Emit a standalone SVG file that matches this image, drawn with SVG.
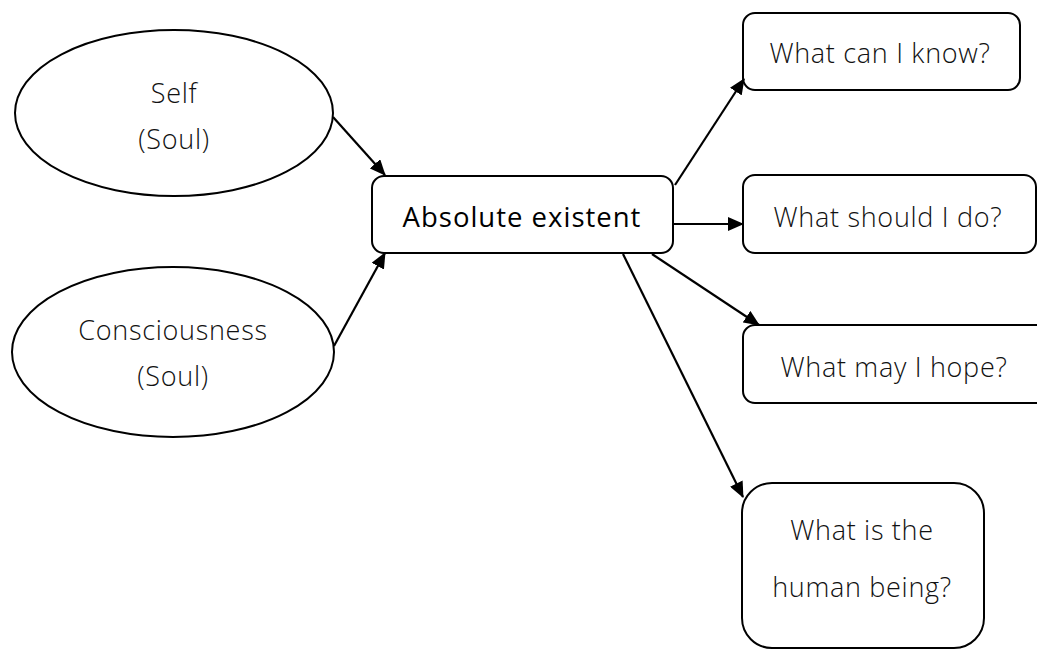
<svg xmlns="http://www.w3.org/2000/svg" width="1037" height="650" viewBox="0 0 1037 650">
  <style>
    .shape { fill: #fff; stroke: #000; stroke-width: 2; }
    .lbl { font-family: "Open Sans", "Noto Sans", sans-serif; font-size: 27px; font-weight: 300; fill: #111; text-anchor: middle; letter-spacing: 0.7px; }
    .bold { font-size: 27.5px; font-weight: 500; fill: #000; letter-spacing: 1px; }
    .edge { stroke: #000; stroke-width: 2.2; fill: none; marker-end: url(#arrow); }
  </style>
  <defs>
    <marker id="arrow" viewBox="0 0 16 14" refX="15" refY="7" markerWidth="16" markerHeight="14" markerUnits="userSpaceOnUse" orient="auto">
      <path d="M0,0 L16,7 L0,14 Z" fill="#000"/>
    </marker>
  </defs>

  <g id="self">
    <ellipse class="shape" cx="174" cy="113" rx="159" ry="83"/>
    <text class="lbl" x="174" y="103">Self</text>
    <text class="lbl" x="174" y="149">(Soul)</text>
  </g>

  <g id="consciousness">
    <ellipse class="shape" cx="173" cy="352" rx="161" ry="85"/>
    <text class="lbl" x="173" y="340">Consciousness</text>
    <text class="lbl" x="173" y="386">(Soul)</text>
  </g>

  <g id="absolute">
    <rect class="shape" x="372" y="176" width="301" height="77" rx="12"/>
    <text class="lbl bold" x="522" y="227">Absolute existent</text>
  </g>

  <g id="know">
    <rect class="shape" x="743" y="13" width="277" height="77" rx="12"/>
    <text class="lbl" x="880" y="63">What can I know?</text>
  </g>

  <g id="do">
    <rect class="shape" x="743" y="175" width="293" height="78" rx="12"/>
    <text class="lbl" x="888" y="227">What should I do?</text>
  </g>

  <g id="hope">
    <rect class="shape" x="743" y="325" width="310" height="78" rx="12"/>
    <text class="lbl" x="894" y="377">What may I hope?</text>
  </g>

  <g id="human">
    <rect class="shape" x="742" y="483" width="242" height="165" rx="30"/>
    <text class="lbl" x="862" y="540">What is the</text>
    <text class="lbl" x="862" y="597">human being?</text>
  </g>

  <g id="connectors">
    <line class="edge" x1="333" y1="117" x2="385" y2="175"/>
    <line class="edge" x1="334" y1="346" x2="385" y2="253"/>
    <line class="edge" x1="675" y1="185" x2="744" y2="79"/>
    <line class="edge" x1="673" y1="224" x2="743" y2="224"/>
    <line class="edge" x1="652" y1="254" x2="759" y2="325"/>
    <line class="edge" x1="623" y1="254" x2="743" y2="497"/>
  </g>
</svg>
